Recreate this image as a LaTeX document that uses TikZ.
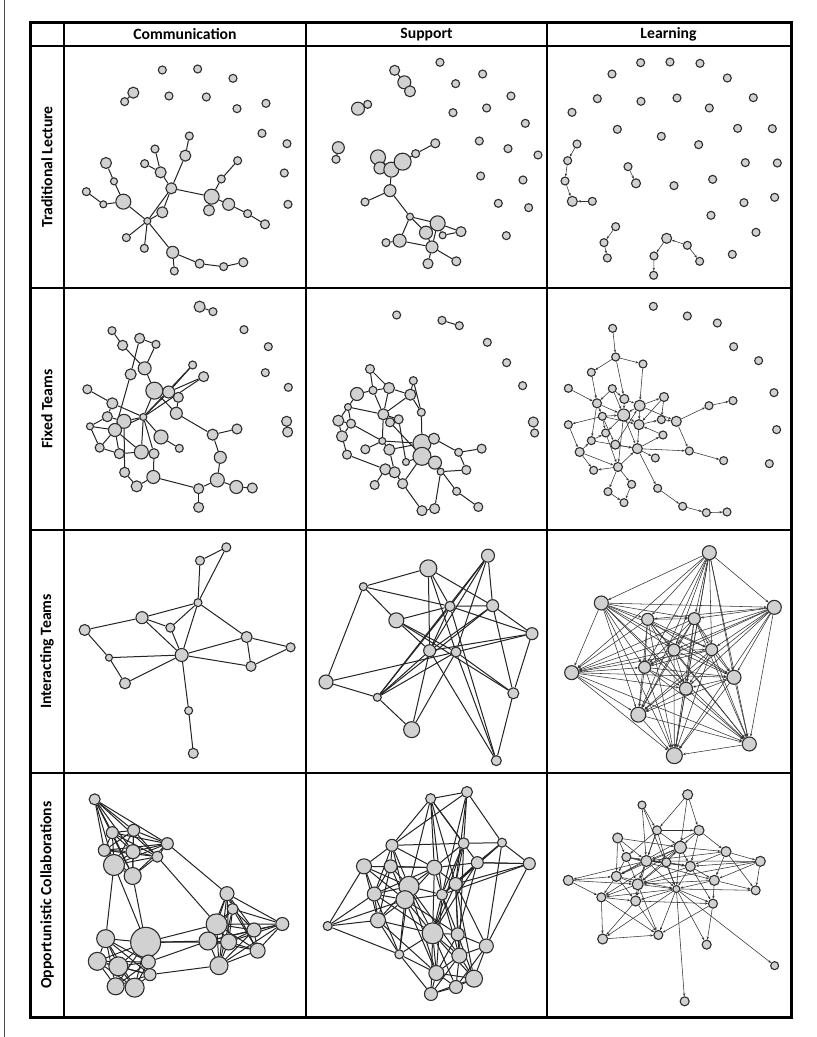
\documentclass[tikz,border=0pt]{standalone}
\usepackage{fontspec}
\newfontfamily\hdr{Carlito}
\usetikzlibrary{arrows.meta}
\pgfdeclarelayer{bg}
\pgfdeclarelayer{paper}
\pgfsetlayers{paper,bg,main}
\tikzset{
  nd/.style={circle, draw=black!82, fill=black!18, line width=1.1pt, inner sep=0pt, minimum size=#1},
  ed/.style={draw=black!86, line width=1pt},
  led/.style={draw=black!80, line width=0.55pt, -{Stealth[length=3pt,width=2.4pt]}},
  grid/.style={line width=2.5pt, black},
  hd/.style={font=\hdr\bfseries\fontsize{15.7}{16}\selectfont, inner sep=0pt},
}
\newcommand\mknodes[1]{\foreach \n/\x/\y/\d in {#1}{\node[nd=\d pt] (\n) at (\x,\y) {};}}
\newcommand\mkedges[2]{\begin{pgfonlayer}{bg}\foreach \p/\q in {#2}{\draw[#1] (\p) -- (\q);}\end{pgfonlayer}}
\newcommand\mkclique[2]{\begin{pgfonlayer}{bg}\foreach \p [count=\ci] in {#2}{\foreach \q [count=\cj] in {#2}{\ifnum\cj>\ci\relax\draw[#1] (\p) -- (\q);\fi}}\end{pgfonlayer}}
\begin{document}
\begin{tikzpicture}[x=1pt,y=-1pt]
\useasboundingbox (0,0) rectangle (817,1037);
\begin{pgfonlayer}{paper}
\fill[white] (0,0) rectangle (817,1037);
\end{pgfonlayer}
\draw[line width=1pt, black!70] (4,0) -- (4,1037);

% ---------- Cell A: Communication / Traditional ----------
\begin{scope}[shift={(64pt,-46pt)}, x=0.3333pt, y=-0.3333pt]
\mknodes{a1/295/72/8, a2/401/69/8, a3/507/97/8, a4/315/150/8, a5/427/153/8, a6/519/188/8, a7/606/172/8, a8/594/262/8, a9/669/293/8, a10/661/381/8, a11/672/475/8,
a12/208/140/11, a13/182/167/8,
a14/250/525/7, a15/178/467/15, a16/150/406/7, a17/126/351/11, a18/118/475/7, a19/67/437/8,
a20/322/427/11, a21/290/379/11, a22/242/353/8, a23/273/309/8, a24/364/329/11, a25/376/270/8,
a26/443/452/15, a27/472/399/8, a28/521/344/8, a29/435/493/11, a30/494/475/12, a31/551/503/8, a32/603/535/9,
a33/295/499/11, a34/187/575/8, a35/241/607/8, a36/326/619/12, a37/331/675/8, a38/407/653/9, a39/479/662/8, a40/538/649/9}
\mkedges{ed}{a13/a12, a15/a16, a16/a17, a15/a18, a18/a19, a15/a14, a14/a33, a14/a20, a33/a20, a20/a21, a21/a23, a21/a22, a20/a24, a24/a25, a20/a26, a26/a27, a27/a28, a26/a29, a26/a30, a30/a31, a31/a32, a14/a34, a14/a35, a14/a36, a36/a37, a36/a38, a38/a39, a39/a40}
\end{scope}

% ---------- Cell B: Support / Traditional ----------
\begin{scope}[shift={(306pt,-46pt)}, x=0.3333pt, y=-0.3333pt]
\mknodes{b1/402/49/8, b2/530/84/8, b3/449/113/8, b4/615/150/8, b5/441/200/8, b6/542/186/8, b7/658/232/8, b8/520/285/8, b9/606/308/8, b10/696/327/8, b11/524/390/8, b12/651/402/8, b13/577/472/8, b14/668/485/8, b15/601/569/8,
b16/266/73/10, b17/295/109/13, b18/312/136/11,
b19/156/188/13, b20/185/175/8,
b21/97/305/12, b22/90/340/8,
b23/216/334/15, b24/222/366/12, b25/256/371/15, b26/290/347/17, b27/329/323/8, b28/388/292/9,
b29/252/434/12, b30/177/468/8, b31/312/512/7, b32/395/532/15, b33/360/560/13, b34/281/584/13, b35/410/568/7, b36/465/557/10, b37/378/603/12, b38/240/590/8, b39/366/653/10, b40/451/646/9}
\mkedges{ed}{b16/b17, b17/b18, b19/b20, b21/b22, b23/b25, b24/b25, b23/b24, b25/b26, b26/b27, b27/b28, b25/b29, b29/b30, b29/b31, b31/b32, b31/b33, b31/b34, b32/b35, b35/b36, b32/b36, b33/b32, b33/b37, b32/b37, b34/b38, b34/b37, b37/b39, b37/b40}
\end{scope}

% ---------- Cell C: Learning / Traditional ----------
\begin{scope}[shift={(547pt,-46pt)}, x=0.3333pt, y=-0.3333pt]
\mknodes{c1/281/50/8, c2/369/48/8, c3/459/52/8, c4/195/84/8, c5/541/96/8, c6/151/158/8, c7/282/166/8, c8/390/156/8, c9/487/186/8, c10/619/155/8, c11/75/199/8, c12/211/250/8, c13/343/271/8, c14/455/296/8, c15/572/247/8, c16/676/248/8, c17/595/350/8, c18/691/351/8, c19/497/400/8, c20/381/419/8, c21/591/470/8, c22/683/454/8, c23/492/508/8, c24/627/559/8, c25/556/625/8,
c26/90/294/8, c27/62/344/8, c28/54/405/8, c29/76/466/10, c30/136/466/8,
c31/243/362/8, c32/267/412/9,
c33/206/542/8, c34/171/590/8, c35/181/636/8,
c36/359/577/10, c37/421/598/8, c38/458/646/8, c39/321/630/8, c40/320/688/8}
\mkedges{led}{c26/c27, c27/c28, c28/c29, c30/c29, c31/c32, c33/c34, c34/c35, c37/c36, c37/c38, c36/c39, c39/c40}
\end{scope}

% ---------- Cell D: Communication / Fixed ----------
\begin{scope}[shift={(64pt,-288pt)}, x=0.3333pt, y=-0.3333pt]
\mknodes{d1/144/128/8, d2/176/172/10, d3/227/151/10, d4/276/169/8, d5/242/241/13, d6/200/259/11, d7/271/308/17, d8/314/312/12, d9/343/328/10, d10/386/231/8, d11/419/266/10, d12/70/304/9, d13/145/346/11, d14/130/386/10, d15/180/400/14, d16/238/387/7, d17/337/376/12, d18/78/415/7, d19/153/426/13, d20/291/447/14, d21/346/481/8, d22/107/479/9, d23/166/497/10, d24/232/492/14, d25/270/497/10, d26/182/553/10, d27/268/567/13, d28/218/595/11, d29/446/440/11, d30/519/423/10, d31/469/508/12, d32/460/576/14, d33/517/597/13, d34/565/600/10, d35/404/602/10, d36/404/658/10,
d37/407/56/11, d38/447/71/8, d39/540/125/8, d40/613/176/8, d41/604/254/8, d42/673/298/8, d43/668/400/10, d44/671/432/10}
\mkedges{ed}{d1/d2, d2/d5, d3/d4, d3/d6, d4/d5, d5/d7, d6/d19, d7/d16, d7/d17, d7/d8, d16/d8, d16/d10, d16/d11, d8/d9, d9/d17, d8/d10, d8/d11, d12/d13, d13/d16, d13/d14, d14/d15, d15/d16, d15/d19, d16/d24, d16/d25, d16/d20, d16/d19, d18/d14, d18/d19, d18/d22, d22/d19, d22/d23, d23/d19, d23/d24, d15/d26, d26/d28, d28/d27, d27/d25, d20/d21, d24/d25, d17/d29, d29/d30, d29/d31, d31/d32, d32/d33, d33/d34, d32/d35, d35/d36, d27/d35, d37/d38, d43/d44, d19/d24}
\end{scope}

% ---------- Cell E: Support / Fixed ----------
\begin{scope}[shift={(306pt,-288pt)}, x=0.3333pt, y=-0.3333pt]
\mknodes{e1/192/243/9, e2/201/307/8, e3/153/318/13, e4/249/300/11, e5/322/278/8, e6/313/320/11, e7/346/373/8, e8/126/357/7, e9/97/398/11, e10/135/407/9, e11/232/379/11, e12/252/403/9, e13/278/394/9, e14/108/445/11, e15/229/459/7, e16/178/484/9, e17/250/485/11, e18/348/466/18, e19/384/452/11, e20/348/505/18, e21/387/524/13, e22/123/500/9, e23/300/522/7, e24/238/544/11, e25/266/553/11, e26/404/551/7, e27/458/493/8, e28/527/482/9, e29/481/546/9, e30/206/591/9, e31/290/587/10, e32/452/610/8, e33/348/668/10, e34/386/662/10, e35/517/657/9,
e36/272/81/8, e37/408/97/8, e38/460/113/8, e39/544/163/8, e40/602/224/8, e41/650/293/8, e42/682/402/10, e43/686/435/8}
\mkedges{ed}{e1/e2, e1/e4, e2/e3, e2/e4, e3/e8, e2/e11, e4/e11, e4/e6, e5/e6, e5/e7, e6/e11, e11/e12, e11/e13, e12/e13, e8/e9, e8/e10, e8/e11, e9/e14, e10/e14, e10/e15, e9/e10, e13/e23, e11/e15, e15/e18, e15/e16, e15/e17, e14/e22, e22/e24, e24/e25, e24/e30, e17/e25, e17/e18, e7/e18, e18/e19, e18/e20, e19/e20, e20/e21, e19/e27, e27/e28, e27/e29, e29/e26, e26/e21, e21/e32, e26/e34, e32/e35, e31/e33, e33/e34, e20/e31, e25/e31, e23/e20, e12/e20, e6/e7, e37/e38, e42/e43}
\end{scope}

% ---------- Cell F: Learning / Fixed ----------
\begin{scope}[shift={(547pt,-288pt)}, x=0.3333pt, y=-0.3333pt]
\mknodes{f1/197/121/8, f2/206/207/8, f3/288/228/8, f4/133/253/8, f5/64/301/8, f6/196/302/8, f7/150/346/9, f8/232/333/9, f9/278/353/11, f10/351/327/9, f11/166/385/8, f12/230/381/12, f13/64/410/8, f14/276/410/10, f15/343/395/8, f16/388/400/10, f17/176/435/8, f18/348/441/8, f19/486/353/8, f20/558/338/8, f21/133/458/8, f22/205/470/9, f23/271/482/10, f24/98/492/9, f25/325/510/8, f26/427/489/8, f27/530/518/8, f28/140/547/8, f29/213/537/9, f30/254/589/8, f31/183/611/8, f32/231/644/8, f33/332/601/8, f34/407/655/8, f35/478/674/8, f36/540/672/8,
f37/319/55/8, f38/421/84/8, f39/511/105/8, f40/560/176/8, f41/635/218/8, f42/681/314/8, f43/689/425/8, f44/667/527/8}
\mkedges{led}{f1/f2, f2/f3, f2/f4, f2/f8, f3/f9, f4/f7, f5/f7, f6/f7, f6/f8, f7/f11, f7/f12, f8/f12, f8/f9, f9/f10, f9/f12, f9/f14, f9/f16, f10/f15, f10/f14, f11/f12, f11/f13, f11/f17, f11/f22, f12/f14, f12/f23, f12/f17, f14/f15, f14/f23, f15/f16, f16/f19, f19/f20, f16/f26, f26/f27, f13/f24, f24/f21, f21/f17, f21/f23, f24/f29, f24/f28, f29/f28, f22/f23, f23/f25, f23/f18, f23/f26, f17/f29, f29/f30, f29/f31, f30/f32, f31/f32, f23/f33, f33/f34, f34/f35, f35/f36, f29/f23, f12/f29, f18/f14, f22/f9, f6/f12, f7/f21, f11/f14}
\end{scope}

% ---------- Cell G: Communication / Interacting ----------
\begin{scope}[shift={(64pt,-530pt)}, x=0.3333pt, y=-0.3333pt]
\mknodes{g1/487/52/9, g2/408/92/9, g3/402/218/8, g4/234/263/12, g5/319/293/9, g6/62/300/11, g7/548/321/11, g8/680/352/9, g9/135/383/7, g10/353/375/13, g11/561/409/10, g12/183/460/11, g13/374/542/8, g14/388/670/10}
\mkedges{ed}{g1/g2, g1/g3, g2/g3, g3/g4, g3/g5, g3/g10, g3/g7, g4/g6, g4/g5, g4/g10, g5/g10, g6/g9, g9/g12, g9/g10, g12/g10, g10/g7, g10/g11, g7/g11, g7/g8, g8/g11, g10/g13, g13/g14}
\end{scope}

% ---------- Cell H: Support / Interacting ----------
\begin{scope}[shift={(306pt,-530pt)}, x=0.3333pt, y=-0.3333pt]
\mknodes{h1/546/77/13, h2/367/115/17, h3/172/170/8, h4/432/229/10, h5/560/227/12, h6/271/271/15, h7/678/311/12, h8/371/362/12, h9/450/366/10, h10/60/456/14, h11/214/502/8, h12/622/490/11, h13/317/599/16, h14/571/692/10}
\mkedges{ed}{h3/h2, h3/h6, h3/h4, h3/h10, h2/h4, h2/h5, h2/h8, h2/h9, h1/h4, h1/h5, h1/h8, h1/h9, h1/h11, h4/h5, h4/h6, h4/h7, h4/h8, h4/h11, h4/h14, h5/h7, h5/h8, h5/h11, h5/h12, h6/h9, h6/h8, h6/h12, h7/h9, h7/h8, h7/h12, h10/h9, h10/h11, h11/h13, h11/h9, h13/h9, h13/h8, h8/h14, h9/h14, h12/h14, h9/h12, h8/h11}
\end{scope}

% ---------- Cell I: Learning / Interacting ----------
\begin{scope}[shift={(547pt,-530pt)}, x=0.3333pt, y=-0.3333pt]
\mknodes{i1/487/68/14, i2/163/219/14, i3/682/232/14, i4/302/268/12, i5/442/266/12, i6/381/360/12, i7/494/359/12, i8/74/428/14, i9/293/412/12, i10/561/442/14, i11/417/476/13, i12/274/554/15, i13/607/642/14, i14/382/677/16}
\mkclique{led}{i1,i2,i3,i4,i5,i6,i7,i8,i9,i10,i11,i12,i13,i14}
\end{scope}

% ---------- Cell J: Communication / Opportunistic ----------
\begin{scope}[shift={(64pt,-773pt)}, x=0.3333pt, y=-0.3333pt]
\mknodes{j1/92/79/11, j2/145/179/12, j3/209/172/12, j4/310/212/12, j5/121/232/12, j6/207/236/14, j7/280/251/11, j8/150/276/21, j9/206/309/17, j10/489/362/14, j11/506/408/11, j12/458/454/21, j13/655/453/13, j14/570/471/14, j15/125/497/18, j16/245/508/30, j17/432/504/18, j18/494/507/16, j19/581/533/15, j20/100/565/18, j21/163/580/19, j22/253/567/14, j23/465/578/18, j24/258/605/12, j25/155/640/17, j26/212/644/19}
\mkclique{ed}{j1,j2,j3,j4,j5,j6,j7,j8,j9}
\mkclique{ed}{j10,j11,j12,j13,j14,j17,j18,j19,j23}
\mkclique{ed}{j15,j16,j20,j21,j22,j24,j25,j26}
\mkedges{ed}{j4/j10, j7/j12, j9/j16, j8/j16, j8/j15, j16/j17, j16/j12, j24/j23, j16/j18, j22/j17}
\end{scope}

% ---------- Cell K: Support / Opportunistic ----------
\begin{scope}[shift={(306pt,-773pt)}, x=0.3333pt, y=-0.3333pt]
\mknodes{k1/374/77/10, k2/483/57/11, k3/258/217/12, k4/473/211/11, k5/588/209/9, k6/174/280/15, k7/254/280/13, k8/385/284/15, k9/514/269/12, k10/670/272/12, k11/309/340/20, k12/449/333/13, k13/205/363/14, k14/297/380/18, k15/408/365/11, k16/65/459/9, k17/216/442/15, k18/380/481/21, k19/455/484/13, k20/541/519/14, k21/280/544/9, k22/460/548/15, k23/391/600/15, k24/504/617/17, k25/450/642/13, k26/375/663/13}
\mkedges{ed}{k1/k2, k1/k3, k1/k4, k1/k8, k1/k11, k1/k12, k1/k15, k1/k9, k2/k3, k2/k4, k2/k5, k2/k12, k2/k15,
k3/k6, k3/k7, k3/k8, k3/k11, k3/k13, k3/k14, k3/k4, k4/k5, k4/k8, k4/k12, k4/k18, k4/k22, k4/k15,
k5/k9, k5/k10, k5/k12, k5/k20, k5/k15, k6/k7, k6/k11, k6/k13, k6/k14, k6/k17, k6/k8, k6/k16,
k7/k11, k7/k13, k7/k14, k7/k17, k7/k8, k8/k11, k8/k12, k8/k14, k8/k15, k8/k18, k8/k9, k8/k13,
k9/k10, k9/k12, k9/k15, k9/k19, k9/k18, k10/k12, k10/k20, k10/k9, k10/k15,
k11/k13, k11/k14, k11/k15, k11/k17, k11/k18, k11/k21, k11/k22, k11/k23,
k12/k15, k12/k18, k12/k19, k12/k22, k12/k20, k12/k24, k13/k14, k13/k16, k13/k17, k13/k21, k13/k18,
k14/k15, k14/k18, k14/k19, k14/k23, k14/k17, k14/k21, k15/k18, k15/k19, k15/k22, k15/k23,
k16/k17, k16/k21, k16/k14, k17/k21, k17/k18, k17/k23, k18/k19, k18/k22, k18/k23, k18/k24, k18/k25, k18/k26, k18/k21,
k19/k20, k19/k22, k19/k24, k19/k23, k20/k22, k20/k24, k20/k25, k21/k26, k21/k23,
k22/k23, k22/k24, k22/k25, k22/k26, k23/k24, k23/k25, k23/k26, k24/k25, k24/k26, k25/k26}
\end{scope}

% ---------- Cell L: Learning / Opportunistic ----------
\begin{scope}[shift={(547pt,-773pt)}, x=0.3333pt, y=-0.3333pt]
\mknodes{l1/422/65/10, l2/285/96/8, l3/330/172/9, l4/456/172/10, l5/212/195/10, l6/400/223/12, l7/537/236/10, l8/238/252/9, l9/298/264/11, l10/358/268/9, l11/640/265/10, l12/430/280/10, l13/64/322/10, l14/208/310/10, l15/272/334/11, l16/502/322/10, l17/388/348/7, l18/626/352/9, l19/163/373/9, l20/266/384/10, l21/498/392/9, l22/167/498/10, l23/334/486/9, l24/479/515/9, l25/683/578/8, l26/413/685/9}
\mkedges{led}{l1/l3, l1/l6, l1/l4, l2/l3, l2/l9, l2/l17, l3/l4, l3/l9, l3/l6, l3/l15, l3/l8, l4/l6, l4/l7, l4/l12, l4/l14, l5/l6, l5/l8, l5/l14, l5/l9, l6/l7, l6/l9, l6/l12, l6/l15, l6/l17, l6/l14, l6/l19, l7/l11, l7/l12, l7/l16, l7/l9, l7/l18, l8/l9, l8/l14, l8/l15, l8/l12, l8/l16, l9/l10, l9/l12, l9/l15, l9/l17, l9/l14, l9/l20, l9/l13, l10/l12, l10/l15, l10/l17, l11/l16, l11/l12, l11/l18, l11/l15, l11/l9, l12/l16, l12/l17, l12/l21, l12/l15, l13/l14, l13/l19, l13/l15, l14/l15, l14/l19, l14/l20, l14/l17, l15/l17, l15/l20, l15/l23, l15/l19, l16/l17, l16/l18, l16/l21, l16/l15, l17/l18, l17/l20, l17/l21, l17/l22, l17/l23, l17/l24, l17/l25, l17/l26, l17/l19, l19/l20, l19/l22, l19/l23, l20/l21, l20/l23, l20/l22, l21/l24, l21/l23, l22/l23, l10/l6, l3/l10}
\end{scope}

% ---------- Table grid ----------
\draw[grid] (64,22) -- (64,1017);
\draw[grid] (306,22) -- (306,1017);
\draw[grid] (547,22) -- (547,1017);
\draw[grid] (30,46) -- (791,46);
\draw[grid] (30,288) -- (791,288);
\draw[grid] (30,530) -- (791,530);
\draw[grid] (30,773) -- (791,773);
\draw[line width=3pt] (30,22) rectangle (791,1017);

% ---------- Headers ----------
\node[hd] (hc) at (185,34.5) {Communication};
\node[hd] (hs) at (426.5,34.5) {Support};
\node[hd] (hl) at (668.5,34.5) {Learning};
\node[hd, rotate=90] (r1) at (47,167) {Traditional Lecture};
\node[hd, rotate=90] (r2) at (47,409) {Fixed Teams};
\node[hd, rotate=90] (r3) at (47,651.5) {Interacting Teams};
\node[hd, rotate=90] (r4) at (47,895) {Opportunistic Collaborations};
\end{tikzpicture}
\end{document}
